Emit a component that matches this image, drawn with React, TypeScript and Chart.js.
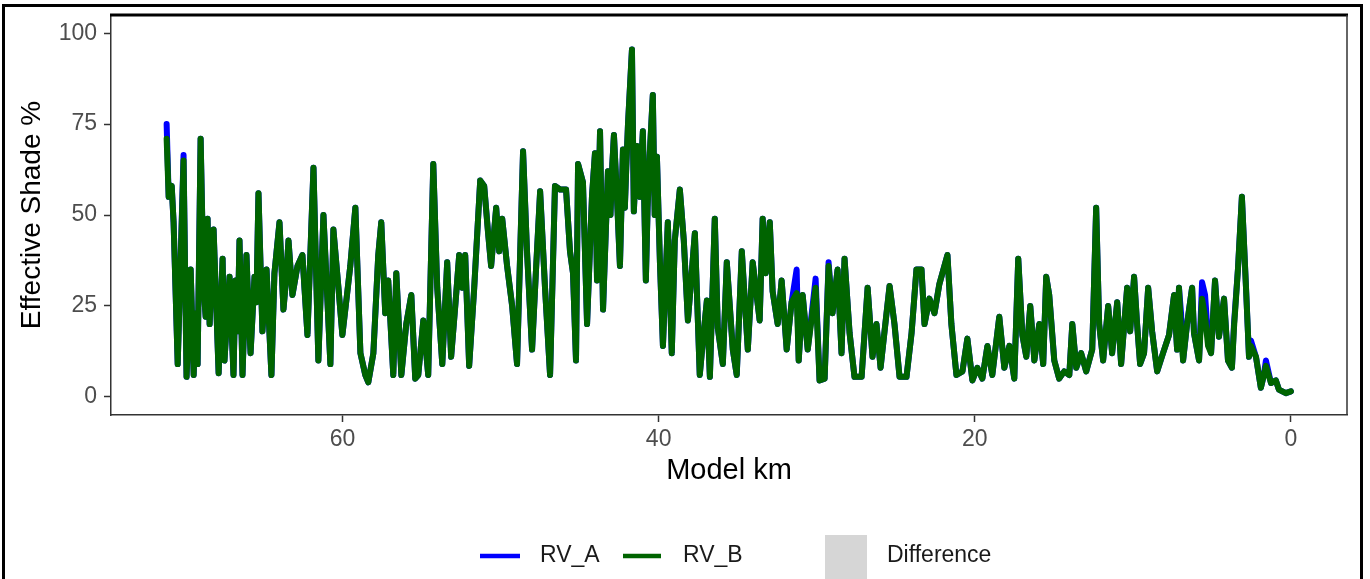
import { useEffect, useRef } from "react";
import { Chart, registerables } from "chart.js";

Chart.register(...registerables);

// Distance along the model reach (km), shared by both runs
const modelKm = [
  71.13, 71.0, 70.81, 70.69, 70.43, 70.06, 69.87, 69.61, 69.42, 69.3,
  69.17, 68.98, 68.79, 68.66, 68.54, 68.41, 68.28, 68.16, 67.84, 67.59, 67.47, 67.15,
  66.9, 66.77, 66.64, 66.52, 66.33, 66.08, 65.95, 65.82, 65.57, 65.45, 65.32, 65.07,
  64.81, 64.5, 64.31, 63.99, 63.74, 63.58, 63.42, 63.17, 62.85, 62.54, 62.22,
  61.84, 61.53, 61.21, 60.77, 60.58, 60.26, 60.01, 59.51, 59.19, 58.87,
  58.56, 58.37, 58.05, 57.74, 57.55, 57.3, 57.11, 56.79, 56.6, 56.28,
  55.97, 55.65, 55.4, 55.21, 54.89, 54.58, 54.26, 54.01, 53.69, 53.38,
  53.13, 52.87, 52.62, 52.43, 52.24, 51.99, 51.67, 51.29, 51.04, 50.79,
  50.6, 50.28, 50.09, 49.9, 49.59, 49.27, 48.96, 48.58, 48.33, 48.01,
  47.76, 47.5, 47.19, 46.87, 46.56, 46.24, 45.86, 45.61, 45.42, 45.23,
  45.1, 44.79, 44.53, 44.22, 44.03, 43.9, 43.71, 43.52, 43.21, 43.05, 42.93, 42.83,
  42.64, 42.45, 42.26, 42.14, 42.05, 41.94, 41.69, 41.57, 41.48, 41.38, 41.19, 41.1, 41.0,
  40.81, 40.7, 40.56, 40.37, 40.25, 40.11, 39.92, 39.73, 39.42, 39.17,
  38.98, 38.66, 38.41, 38.15, 37.71, 37.4, 37.21, 36.95, 36.76, 36.45,
  36.26, 35.94, 35.69, 35.31, 35.06, 34.74, 34.36, 34.05, 33.61, 33.42,
  33.23, 32.97, 32.79, 32.47, 32.22, 31.9, 31.59, 31.27, 31.14, 30.89,
  30.57, 30.07, 29.82, 29.5, 29.25, 29.0, 28.68, 28.43, 28.24, 27.92,
  27.61, 27.16, 26.78, 26.47, 26.22, 25.96, 25.71, 25.39, 25.08, 24.76,
  24.32, 24.0, 23.69, 23.37, 23.18, 22.87, 22.55, 22.24, 21.73, 21.48,
  21.16, 20.78, 20.47, 20.15, 19.84, 19.52, 19.2, 18.89, 18.45, 18.13,
  17.81, 17.5, 17.25, 16.99, 16.74, 16.49, 16.23, 15.92, 15.67, 15.48,
  15.29, 14.97, 14.66, 14.34, 14.02, 13.83, 13.58, 13.27, 12.95, 12.57,
  12.32, 12.13, 11.88, 11.56, 11.31, 10.99, 10.74, 10.36, 10.17, 9.92,
  9.73, 9.54, 9.29, 9.03, 8.78, 8.46, 8.09, 7.71, 7.39, 7.2,
  7.08, 6.95, 6.82, 6.57, 6.25, 6.13, 5.81, 5.62, 5.43, 5.24,
  5.05, 4.8, 4.55, 4.23, 3.98, 3.73, 3.6, 3.35, 3.1, 2.84,
  2.65, 2.53, 2.21, 1.9, 1.71, 1.58, 1.26, 0.95, 0.76, 0.32, 0.0,
];

// Effective shade (%) for run B
const rvB = [
  71, 55, 58, 48, 9, 65, 5.5, 35, 6, 23,
  9, 71, 30, 22, 49, 20, 35, 46, 6.5, 38, 10, 33,
  6, 32, 18, 43, 6, 39, 24, 12, 33, 26, 56, 18,
  35, 6, 34, 48, 24, 32, 43, 28, 36, 39, 17,
  63, 10, 50, 9, 46, 30, 17, 36, 52, 12,
  6, 4, 12, 39, 48, 23, 32, 6, 34, 6,
  20, 28, 5, 6, 21, 6, 64, 30, 9, 37,
  11, 25, 39, 30, 39, 8.5, 30, 59.5, 58, 45,
  36, 52, 40, 49, 36, 25, 9, 67.5, 40, 13,
  35, 56.5, 30, 6, 58, 57, 57, 40, 34, 10,
  64, 59, 20, 55, 67, 32, 73, 24, 62, 50, 64, 72,
  55, 36, 68, 52, 63, 75, 95.5, 51, 60, 69, 55, 64, 73,
  32, 52, 67, 83, 50, 66, 37, 14, 48, 12,
  43, 57, 43, 21, 45, 6, 15, 26.5, 5.5, 49,
  19, 9, 37, 13, 6, 40, 13, 37, 21, 49,
  34, 48, 29, 20, 32, 13, 26, 28.5, 10, 28,
  13, 30, 4.5, 5, 36, 23, 35, 12, 38, 17.5,
  5.5, 5.5, 30, 11, 20, 8, 18, 30.5, 20, 5.5,
  5.5, 17.5, 35, 35, 20, 27, 23, 31, 39, 20,
  6, 7, 16, 4.5, 8, 5, 14, 6, 22, 8,
  14, 5, 38, 17, 11, 25, 10, 20, 9, 33,
  28, 10, 5, 7, 6, 20, 8, 12, 7, 13,
  52, 20, 10, 25, 12, 26, 9, 30, 18, 33,
  20, 9, 12, 30, 18, 7, 12, 17, 28, 13,
  30, 18, 10, 20, 30, 17.5, 10, 27, 22, 14,
  12, 32, 16.5, 27, 10, 8, 19, 35, 55, 30,
  11, 14, 11, 2.5, 6, 8.5, 3.8, 4.5, 2, 1, 1.5,
];

// Effective shade (%) for run A
const rvA = [
  75, 55, 58, 48, 9, 66.5, 5.5, 35, 6, 23,
  9, 71, 30, 22, 49, 20, 35, 46, 6.5, 38, 10, 33,
  6, 32, 18, 43, 6, 39, 24, 12, 33, 26, 56, 18,
  35, 6, 34, 48, 24, 32, 43, 28, 36, 39, 17,
  63, 10, 50, 9, 46, 30, 17, 36, 52, 12,
  6, 4, 12, 39, 48, 23, 32, 6, 34, 6,
  20, 28, 5, 6, 21, 6, 64, 30, 9, 37,
  11, 25, 39, 30, 39, 8.5, 30, 59.5, 58, 45,
  36, 52, 40, 49, 36, 25, 9, 67.5, 40, 13,
  35, 56.5, 30, 6, 58, 57, 57, 40, 34, 10,
  64, 59, 20, 55, 67, 32, 73, 24, 62, 50, 64, 72,
  55, 36, 68, 52, 63, 75, 95.5, 51, 60, 69, 55, 64, 73,
  32, 52, 67, 83, 50, 66, 37, 14, 48, 12,
  43, 57, 43, 21, 45, 6, 15, 26.5, 5.5, 49,
  19, 9, 37, 13, 6, 40, 13, 37, 21, 49,
  34, 48, 29, 20, 32, 13, 26, 35, 10, 28,
  13, 32.5, 4.5, 5, 37, 23, 35, 12, 38, 17.5,
  5.5, 5.5, 30, 11, 20, 8, 18, 30.5, 20, 5.5,
  5.5, 17.5, 35, 35, 20, 27, 23, 31, 39, 20,
  6, 7, 16, 4.5, 8, 5, 14, 6, 22, 8,
  14, 5, 38, 17, 11, 25, 10, 20, 9, 33,
  28, 10, 5, 7, 6, 20, 8, 12, 7, 13,
  52, 20, 10, 25, 12, 26, 9, 30, 18, 33,
  20, 9, 12, 30, 18, 7, 12, 17, 28, 13,
  30, 23, 10, 20, 30, 17.5, 10, 31.5, 28, 16,
  12, 32, 16.5, 27, 10, 8, 20, 35, 55, 30,
  11, 15.5, 11, 2.5, 6, 10, 3.8, 4.5, 2, 1, 1.5,
];

const xTickValues = [0, 20, 40, 60];
const yTickValues = [0, 25, 50, 75, 100];
const seriesNames = ["RV_A", "RV_B", "Difference"];

const FONT = "'Liberation Sans', Arial, Helvetica, sans-serif";
const BLUE = "#0000ff";
const GREEN = "#006400";
const DIFF_FILL = "rgba(160,160,160,0.4)";

const framePlugin = {
  id: "frameAndLegend",
  afterDraw(chart: any) {
    const { ctx, chartArea } = chart;
    const { left, right, top } = chartArea;
    ctx.save();

    // outer figure frame
    ctx.strokeStyle = "#000";
    ctx.lineWidth = 3;
    ctx.strokeRect(3.5, 5.5, 1358, 600);

    // panel top and right edges
    ctx.beginPath();
    ctx.lineWidth = 3;
    ctx.moveTo(left - 1, top);
    ctx.lineTo(right + 1, top);
    ctx.stroke();
    ctx.beginPath();
    ctx.strokeStyle = "#333";
    ctx.lineWidth = 1.5;
    ctx.moveTo(right, top);
    ctx.lineTo(right, chartArea.bottom);
    ctx.stroke();

    // legend
    const cy = 556;
    ctx.font = `23px ${FONT}`;
    ctx.textBaseline = "middle";
    ctx.textAlign = "left";
    ctx.lineCap = "butt";

    ctx.strokeStyle = BLUE;
    ctx.lineWidth = 4.5;
    ctx.beginPath();
    ctx.moveTo(480, cy);
    ctx.lineTo(520, cy);
    ctx.stroke();
    ctx.fillStyle = "#1a1a1a";
    ctx.fillText(seriesNames[0], 540, cy);

    ctx.strokeStyle = GREEN;
    ctx.beginPath();
    ctx.moveTo(623, cy);
    ctx.lineTo(661, cy);
    ctx.stroke();
    ctx.fillStyle = "#1a1a1a";
    ctx.fillText(seriesNames[1], 683, cy);

    ctx.fillStyle = "#d6d6d6";
    ctx.fillRect(825, 535, 42, 44);
    ctx.fillStyle = "#1a1a1a";
    ctx.fillText(seriesNames[2], 887, cy);

    ctx.restore();
  },
};

export default function App() {
  const canvasRef = useRef<HTMLCanvasElement | null>(null);

  useEffect(() => {
    document.body.style.margin = "0";
    const canvas = canvasRef.current;
    if (!canvas) return;
    const toPoints = (vals: number[]) => modelKm.map((x, i) => ({ x, y: vals[i] }));

    const lineStyle = {
      pointRadius: 0,
      borderWidth: 6,
      tension: 0,
      borderJoinStyle: "round" as const,
      borderCapStyle: "round" as const,
      fill: false,
    };

    const chart = new Chart(canvas, {
      type: "line",
      data: {
        datasets: [
          { label: seriesNames[0], data: toPoints(rvA), borderColor: BLUE, order: 1, ...lineStyle },
          { label: seriesNames[1], data: toPoints(rvB), borderColor: GREEN, order: 0, ...lineStyle },
          {
            label: seriesNames[2],
            data: toPoints(rvA),
            borderColor: "transparent",
            borderWidth: 0,
            pointRadius: 0,
            backgroundColor: DIFF_FILL,
            fill: 1,
            order: 2,
          },
        ],
      },
      options: {
        responsive: false,
        animation: false,
        events: [],
        layout: { padding: { left: 0, top: 15, right: 23, bottom: 89 } },
        plugins: {
          legend: { display: false },
          tooltip: { enabled: false },
        },
        scales: {
          x: {
            type: "linear",
            reverse: true,
            min: -3.55,
            max: 74.65,
            afterBuildTicks: (scale: any) => {
              scale.ticks = xTickValues.map((v) => ({ value: v }));
            },
            afterFit: (scale: any) => {
              scale.height = 75;
              scale.paddingLeft = 0;
              scale.paddingRight = 0;
            },
            grid: {
              drawOnChartArea: false,
              drawTicks: true,
              tickLength: 7,
              tickColor: "#333",
              tickWidth: 1.5,
            },
            border: { display: true, color: "#333", width: 1.5 },
            ticks: {
              color: "#4d4d4d",
              font: { family: FONT, size: 23 },
              padding: 4,
              maxRotation: 0,
            },
            title: {
              display: true,
              text: "Model km",
              color: "#000",
              font: { family: FONT, size: 29 },
              padding: { top: 0, bottom: 2 },
            },
          },
          y: {
            type: "linear",
            min: -5,
            max: 105,
            afterBuildTicks: (scale: any) => {
              scale.ticks = yTickValues.map((v) => ({ value: v }));
            },
            afterFit: (scale: any) => {
              scale.width = 111;
              scale.paddingTop = 0;
              scale.paddingBottom = 0;
            },
            grid: {
              drawOnChartArea: false,
              drawTicks: true,
              tickLength: 7,
              tickColor: "#333",
              tickWidth: 1.5,
            },
            border: { display: true, color: "#333", width: 1.5 },
            ticks: {
              color: "#4d4d4d",
              font: { family: FONT, size: 23 },
              padding: 7,
            },
            title: {
              display: true,
              text: "Effective Shade %",
              color: "#000",
              font: { family: FONT, size: 28 },
              padding: { top: 15, bottom: 0 },
            },
          },
        },
      },
      plugins: [framePlugin],
    });

    return () => chart.destroy();
  }, []);

  return (
    <div style={{ position: "relative", width: 1370, height: 579, background: "#fff" }}>
      <canvas ref={canvasRef} width={1370} height={579} />
    </div>
  );
}
